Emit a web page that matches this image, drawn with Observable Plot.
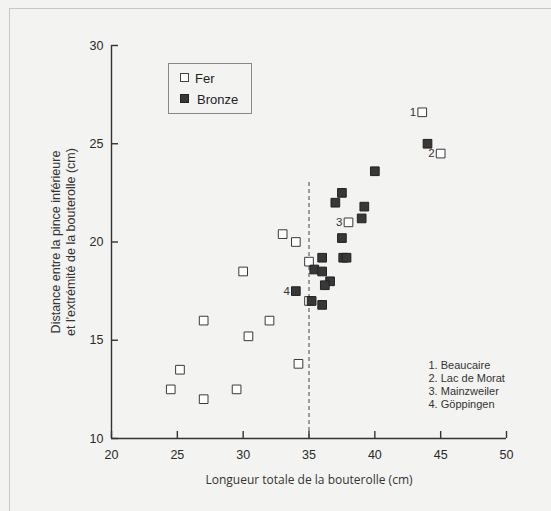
<!DOCTYPE html>
<html><head><meta charset="utf-8">
<script src="https://cdn.jsdelivr.net/npm/d3@7"></script>
<script src="https://cdn.jsdelivr.net/npm/@observablehq/plot@0.6"></script>
<style>
html,body{margin:0;padding:0;background:#f3f3f1;}
#chart{width:551px;height:511px;position:relative;}
</style></head>
<body><div id="chart"></div>
<script>
// Fer (iron) chapes
const ferX = [43.6, 45.0, 38.0, 33.0, 34.0, 35.0, 30.0, 27.0, 32.0, 30.4, 35.0, 34.2, 25.2, 24.5, 29.5, 27.0];
const ferY = [26.6, 24.5, 21.0, 20.4, 20.0, 19.0, 18.5, 16.0, 16.0, 15.2, 17.0, 13.8, 13.5, 12.5, 12.5, 12.0];
// Bronze chapes
const bronzeX = [44.0, 40.0, 37.5, 37.0, 39.2, 39.0, 37.5, 36.0, 37.6, 37.85, 35.4, 36.0, 36.6, 36.2, 34.0, 35.2, 36.0];
const bronzeY = [25.0, 23.6, 22.5, 22.0, 21.8, 21.2, 20.2, 19.2, 19.2, 19.2, 18.6, 18.5, 18.0, 17.8, 17.5, 17.0, 16.8];
// labelled specimens
const labelIds = ["1", "2", "3", "4"];
const labelX = [43.6, 45.0, 38.0, 34.0];
const labelY = [26.6, 24.5, 21.0, 17.5];
const notes = ["1. Beaucaire", "2. Lac de Morat", "3. Mainzweiler", "4. Göppingen"];
const xTicks = [20, 25, 30, 35, 40, 45, 50];
const yTicks = [10, 15, 20, 25, 30];
const threshold = 35;
const thresholdTop = 23.1;
const legendItems = ["Fer", "Bronze"];
const xLabel = "Longueur totale de la bouterolle (cm)";
const yLabel = "Distance entre la pince inférieure\net l'extrémité de la bouterolle (cm)";

const fer = ferX.map((x, i) => ({x, y: ferY[i]}));
const bronze = bronzeX.map((x, i) => ({x, y: bronzeY[i]}));
const labels = labelIds.map((id, i) => ({id, x: labelX[i], y: labelY[i]}));

const ML = 111, MT = 45;
const plot = Plot.plot({
  width: 551, height: 511,
  marginLeft: ML, marginRight: 45, marginTop: MT, marginBottom: 73,
  style: {background: "transparent", fontFamily: "'Liberation Sans', Arial, sans-serif", fontSize: "12.5px", color: "#2a2a2a"},
  x: {domain: [20, 50]},
  y: {domain: [10, 30]},
  marks: [
    Plot.ruleY([10], {stroke: "#333", strokeWidth: 1.4}),
    Plot.ruleX([20], {stroke: "#333", strokeWidth: 1.4}),
    Plot.axisX({ticks: xTicks, tickSize: -7, tickPadding: 19, strokeWidth: 1.4, stroke: "#333", label: null, fontSize: 12.5}),
    Plot.axisY({ticks: yTicks, tickSize: -7, tickPadding: 15, strokeWidth: 1.4, stroke: "#333", label: null, fontSize: 12.5}),
    Plot.ruleX([threshold], {y1: 10, y2: thresholdTop, stroke: "#444", strokeWidth: 1, strokeDasharray: "4,3"}),
    Plot.dot(fer, {x: "x", y: "y", symbol: "square", r: 4.9, fill: "white", stroke: "#3a3a3a", strokeWidth: 1}),
    Plot.dot(bronze, {x: "x", y: "y", symbol: "square", r: 4.9, fill: "#383838", stroke: "#222", strokeWidth: 1}),
    Plot.text(labels, {x: "x", y: "y", text: "id", dx: -6, textAnchor: "end", fontSize: 11.5, fill: "#333"}),
    Plot.text([notes.join("\n")], {frameAnchor: "top-left", dx: 428 - ML, dy: 359 - MT, textAnchor: "start", lineAnchor: "top", lineHeight: 1.18, fontSize: 11, fill: "#333"}),
    Plot.text([xLabel], {frameAnchor: "bottom", dy: 45, fontFamily: "'Open Sans', sans-serif", fontSize: 12, fill: "#333"}),
    Plot.text([yLabel], {frameAnchor: "left", dx: -49, rotate: -90, textAnchor: "middle", lineAnchor: "middle", lineHeight: 1.25, fontSize: 12.5, fill: "#333"})
  ]
});
document.getElementById("chart").appendChild(plot);

// frame and legend overlay
const svg = d3.select(plot);
svg.insert("rect", ":first-child").attr("x", 9.5).attr("y", 8.5).attr("width", 560).attr("height", 520)
  .attr("fill", "none").attr("stroke", "#9a9a9a").attr("stroke-width", 1).attr("stroke-dasharray", "1,1");
const lg = svg.append("g").attr("font-family", "'Liberation Sans', Arial, sans-serif").attr("font-size", 13)
  .attr("fill", "#222").attr("text-anchor", "start");
lg.append("rect").attr("x", 168.5).attr("y", 63.5).attr("width", 83).attr("height", 50)
  .attr("fill", "none").attr("stroke", "#888").attr("stroke-width", 1);
legendItems.forEach((name, i) => {
  const cy = 78 + i * 21;
  lg.append("rect").attr("x", 180.5).attr("y", cy - 4.5).attr("width", 8).attr("height", 8)
    .attr("fill", i === 0 ? "white" : "#383838").attr("stroke", i === 0 ? "#444" : "#222");
  lg.append("text").attr("x", 195 + (i === 1 ? 2 : 0)).attr("y", cy).attr("dy", "0.35em").text(name);
});
</script></body></html>
